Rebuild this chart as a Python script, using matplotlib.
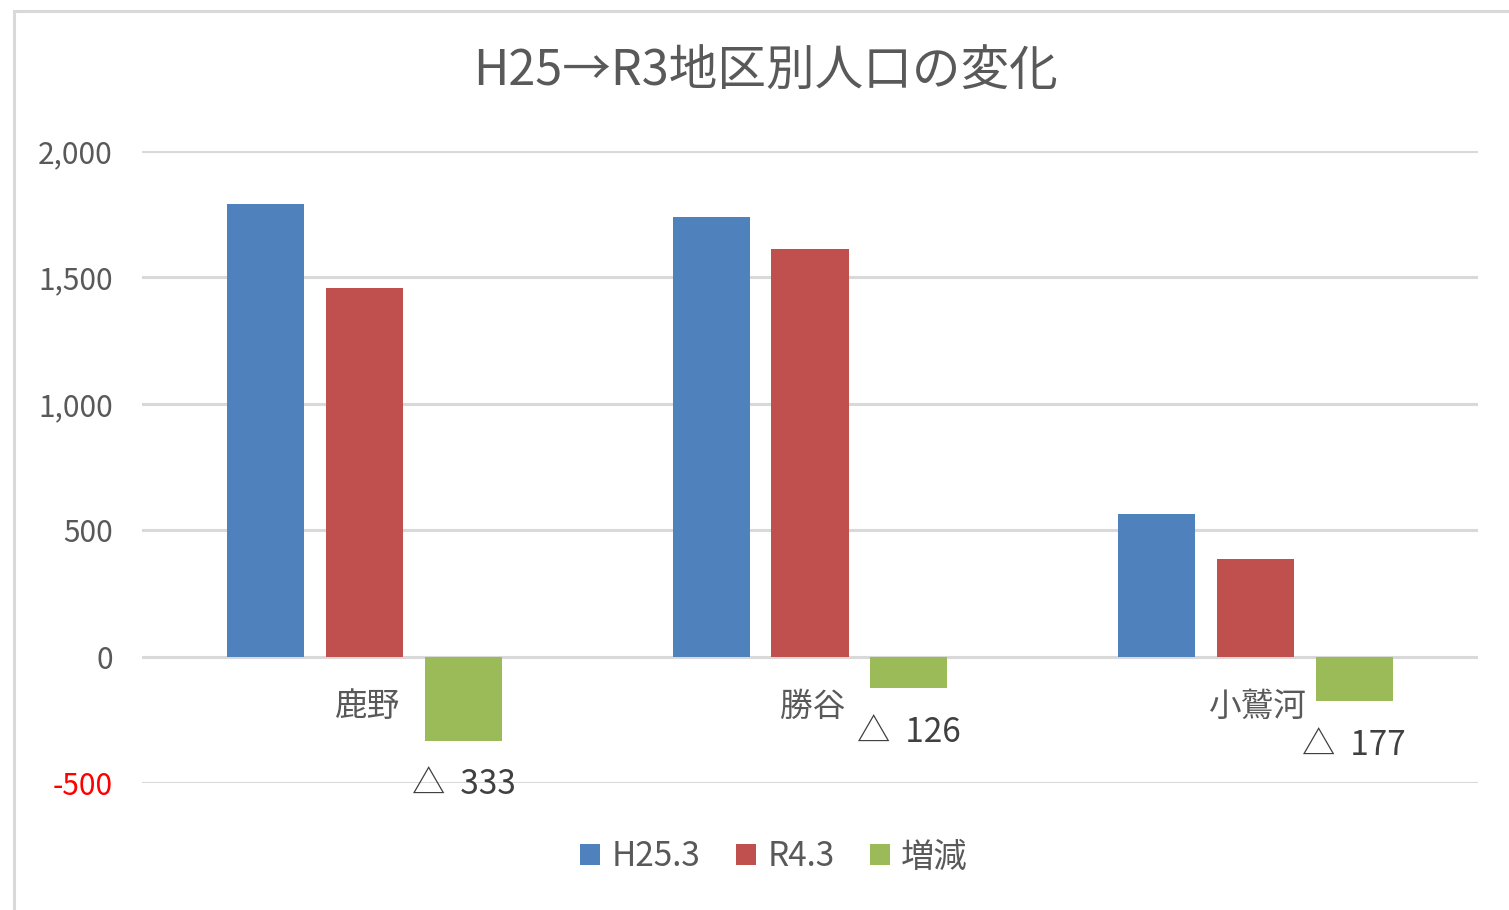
import matplotlib.pyplot as plt
import matplotlib.patches as patches
import numpy as np

plt.rcParams['font.family'] = ['Noto Sans CJK JP', 'DejaVu Sans']

# data
districts = ['鹿野', '勝谷', '小鷲河']
series_names = ['H25.3', 'R4.3', '増減']
h25 = [1792, 1739, 564]
r4 = [1459, 1613, 387]
change = [-333, -126, -177]
colors = ['#4F81BD', '#C0504D', '#9BBB59']
y_ticks = [-500, 0, 500, 1000, 1500, 2000]

fig = plt.figure(figsize=(15.09, 9.10), dpi=100)
ax = fig.add_axes([142 / 1509, 1 - 783 / 910, (1478 - 142) / 1509, (783 - 151) / 910])

# outer border of the chart area
fig.patches.append(patches.Rectangle((13.5 / 1509, -0.05), 1.1, 1 - 11.5 / 910 + 0.05,
                                     transform=fig.transFigure, fill=False,
                                     edgecolor='#d9d9d9', linewidth=2.2, zorder=0))

x = np.arange(len(districts))
width = 0.173
step = 0.222
bars = []
for k, vals in enumerate([h25, r4, change]):
    b = ax.bar(x + (k - 1) * step, vals, width, color=colors[k], label=series_names[k], zorder=3)
    bars.append(b)

ax.set_xlim(-0.5, 2.5)
ax.set_ylim(-500, 2000)
ax.set_yticks(y_ticks)
ax.set_yticklabels([f'{v:,}' for v in y_ticks], fontsize=21.5, color='#595959')
ax.get_yticklabels()[0].set_color('#FF0000')
ax.tick_params(axis='y', length=0, pad=21)
ax.set_xticks([])
ax.grid(axis='y', color='#d9d9d9', linewidth=2.2, zorder=0)
for s in ax.spines.values():
    s.set_visible(False)

# category labels just under the zero line
for i, name in enumerate(districts):
    ax.annotate(name, xy=(i, 0), xytext=(3, -50), textcoords='offset pixels',
                ha='center', va='center', fontsize=23.5, color='#595959')

# data labels for the change series
for i, v in enumerate(change):
    ax.annotate(f'△  {abs(v)}', xy=(x[i] + step, v), xytext=(0, -44), textcoords='offset pixels',
                ha='center', va='center', fontsize=24, color='#404040')

fig.text(765 / 1509, 1 - 72 / 910, 'H25→R3地区別人口の変化', ha='center', va='center',
         fontsize=35, color='#595959')

fig.legend(handles=bars, labels=series_names, loc='center',
           bbox_to_anchor=(774 / 1509, 1 - 857 / 910), ncol=3, frameon=False,
           fontsize=24, handlelength=0.6, handleheight=0.6, handletextpad=0.35,
           columnspacing=1.05, labelcolor='#595959')

fig.savefig('out.png', dpi=100)
